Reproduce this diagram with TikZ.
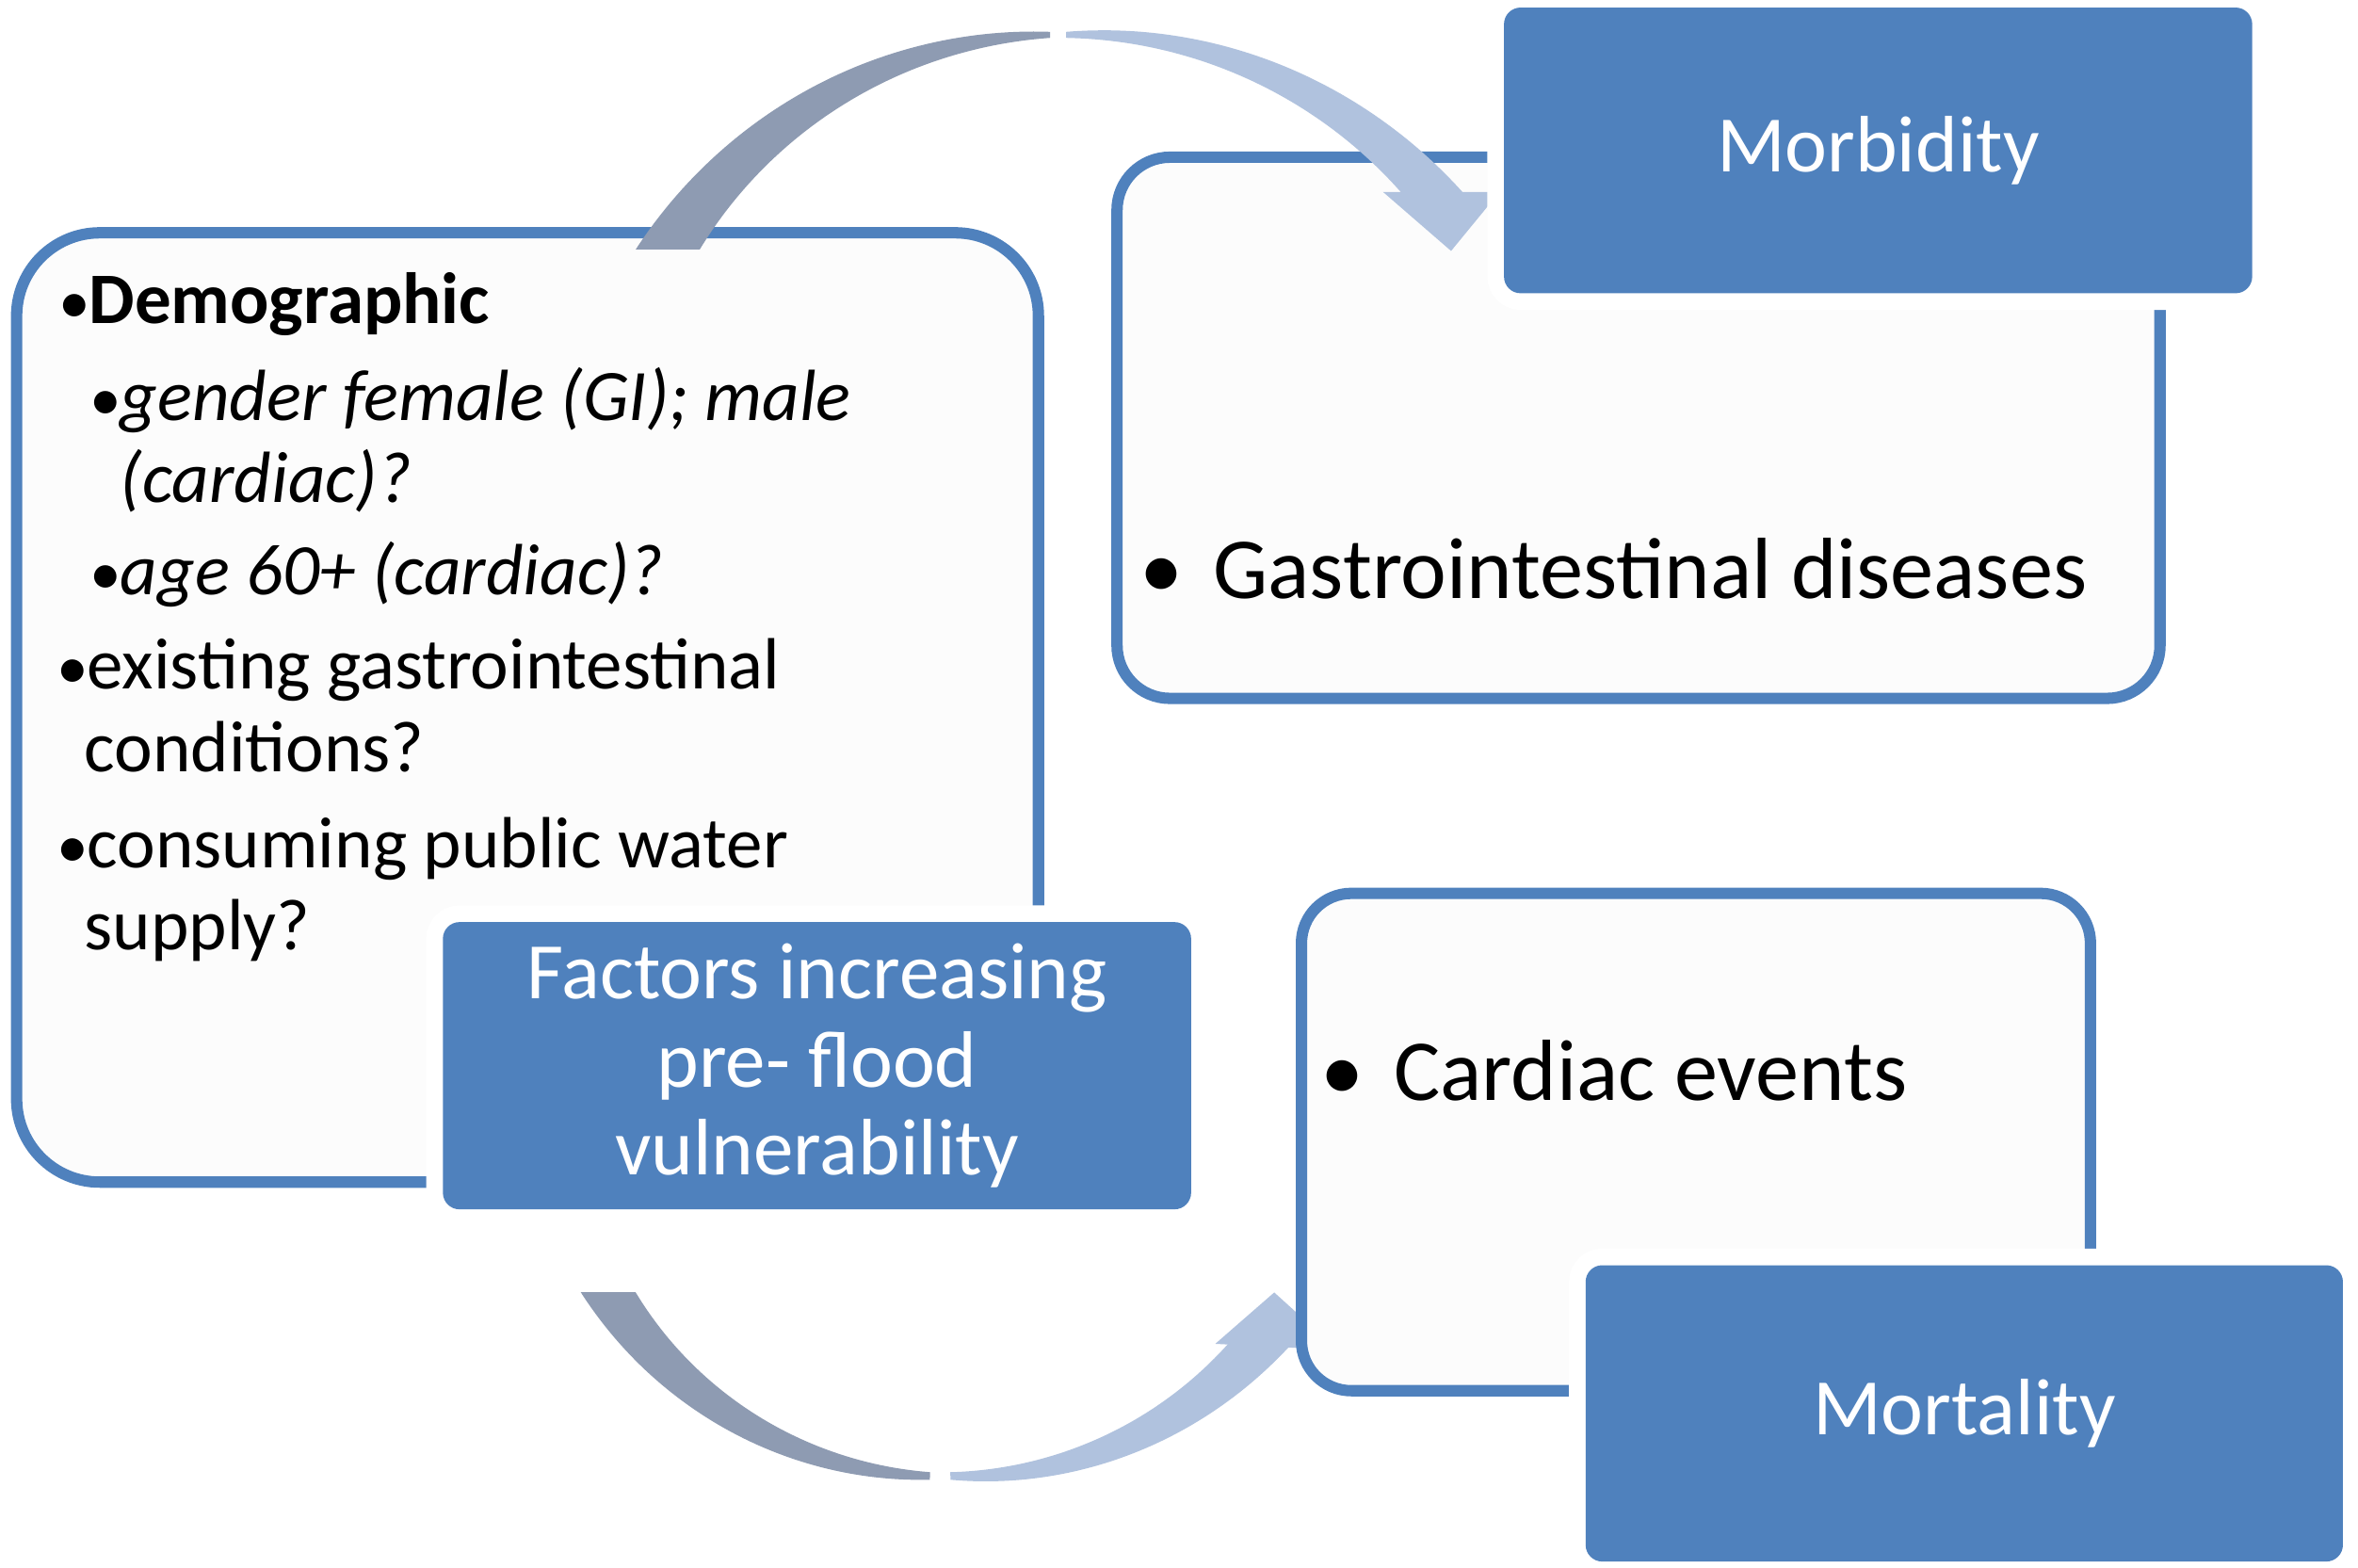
\documentclass[tikz,border=0pt]{standalone}
\usepackage{fontspec}
\setmainfont{Carlito}
\definecolor{boxblue}{RGB}{79,129,189}
\definecolor{arcgray}{RGB}{142,155,178}
\definecolor{arclight}{RGB}{176,194,222}
\definecolor{panel}{RGB}{252,252,252}
\newcommand{\fsz}[2]{\fontsize{#1}{#2}\selectfont}
\newcommand{\smallbul}{\llap{{\fontsize{42}{42}\selectfont •}\hspace{-1pt}}}
\tikzset{
  outline/.style={draw=boxblue, line width=7.5pt, fill=panel, inner sep=0pt},
  titlebox/.style={fill=boxblue, rounded corners=11pt, inner sep=0pt, text=white,
    align=center, font=\fsz{53}{58}, preaction={draw=white, line width=22pt}},
  itemtxt/.style={anchor=base west, inner sep=0pt, font=\fsz{48}{54.5}},
  bigtxt/.style={anchor=base west, inner sep=0pt, font=\fsz{57.5}{66}},
}
\begin{document}
\begin{tikzpicture}[x=1pt, y=-1pt]
\clip (0,0) rectangle (1560,1036.7);
\fill[white] (0,0) rectangle (1560,1036.7);

% left panel
\node[outline, rounded corners=55pt, minimum width=676pt, minimum height=628pt] (risk) at (349,468) {};
% GI panel
\node[outline, rounded corners=35pt, minimum width=690pt, minimum height=358pt] (gi) at (1084,283) {};

% top circular arrow
\begin{scope}
  \clip (0,0) rectangle (1560,165);
  \fill[arcgray] plot[domain=151:91, samples=60, variable=\a]
      ({700+(307+16*(\a-91)/57)*cos(\a)}, {328-(307+16*(\a-91)/57)*sin(\a)})
    -- plot[domain=91:151, samples=60, variable=\a]
      ({700+(303-16*(\a-91)/57)*cos(\a)}, {328-(303-16*(\a-91)/57)*sin(\a)})
    -- cycle;
\end{scope}
\fill[arclight] plot[domain=89:36, samples=60, variable=\a]
      ({700+303*cos(\a)}, {328-303*sin(\a)})
    -- plot[domain=36:89, samples=60, variable=\a]
      ({700+(307+26*(89-\a)/49)*cos(\a)}, {328-(307+26*(89-\a)/49)*sin(\a)})
    -- cycle;
\coordinate (hl) at (915,127);
\coordinate (hr) at (992,127);
\coordinate (ht) at (960,166);
\fill[arclight] (hl) -- (hr) -- (ht) -- cycle;

% Morbidity
\node[titlebox, minimum width=495pt, minimum height=189pt] (morb) at (1242.5,99.5) {Morbidity};

% Factors
\node[titlebox, minimum width=495pt, minimum height=190pt] (factors) at (540.5,705)
  {Factors increasing\\pre- flood\\vulnerability};

% bottom circular arrow
\begin{scope}
  \clip (0,855) rectangle (1560,1036.7);
  \fill[arcgray] plot[domain=206:268.5, samples=60, variable=\a]
      ({622+(261+13*(268.5-\a)/57)*cos(\a)}, {718-(261+13*(268.5-\a)/57)*sin(\a)})
    -- plot[domain=268.5:206, samples=60, variable=\a]
      ({622+(256-13*(268.5-\a)/57)*cos(\a)}, {718-(256-13*(268.5-\a)/57)*sin(\a)})
    -- cycle;
\end{scope}
\fill[arclight] plot[domain=271.5:323, samples=60, variable=\a]
      ({622+(261+26*(\a-271.5)/49)*cos(\a)}, {718-(261+26*(\a-271.5)/49)*sin(\a)})
    -- plot[domain=323:271.5, samples=60, variable=\a]
      ({622+256*cos(\a)}, {718-256*sin(\a)})
    -- cycle;
\coordinate (bl) at (804,889);
\coordinate (bt) at (843,855);
\coordinate (br) at (885,893);
\fill[arclight] (bl) -- (bt) -- (br) -- cycle;

% Cardiac panel
\node[outline, rounded corners=33pt, minimum width=522pt, minimum height=329pt] (cardiac) at (1122,755.5) {};
% Mortality
\node[titlebox, minimum width=501pt, minimum height=196pt] (mort) at (1299.5,935) {Mortality};

% left panel texts
\node[itemtxt] (demog) at (58.7,214) {\smallbul\textbf{Demographic}};
\node[itemtxt] (gender) at (79.5,278) {\vtop{\hbox{\smallbul\textit{gender female (GI); male}}\hbox{\textit{(cardiac)?}}}};
\node[itemtxt] (age) at (79.5,393.6) {\smallbul\textit{age 60+ (cardiac)?}};
\node[itemtxt] (existing) at (57.6,456) {\vtop{\hbox{\smallbul existing gastrointestinal}\hbox{\hspace{-2pt}conditions?}}};
\node[itemtxt] (consuming) at (57.6,574) {\vtop{\hbox{\smallbul consuming public water}\hbox{\hspace{-2pt}supply?}}};

% right panel texts
\node[bigtxt] (gitext) at (802.6,396) {\llap{•\hspace{20pt}}Gastrointestinal diseases};
\node[bigtxt] (cardtext) at (922,727.8) {\llap{•\hspace{20pt}}Cardiac events};
\end{tikzpicture}
\end{document}
